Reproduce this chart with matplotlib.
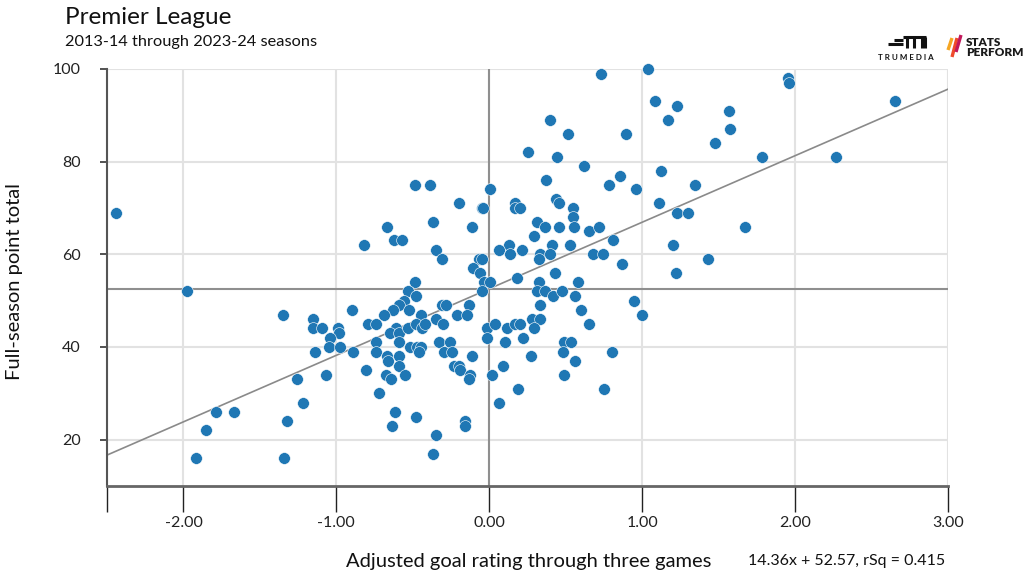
import matplotlib
matplotlib.use("Agg")
import matplotlib.pyplot as plt
from matplotlib.lines import Line2D
import numpy as np

# ---- data ----
goal_rating = [
    -2.44, -1.98, -1.79, -1.67, -1.85, -1.92,
    -1.35, -1.26, -1.32, -1.34, -1.22,
    -1.154, -1.154, -1.095, -0.99, -0.986, -1.04, -1.045, -0.975, -1.14, -0.89, -1.07, -0.895,
    -0.82, -0.666, -0.62, -0.57, -0.489, -0.39, -0.37, -0.35, -0.31,
    -0.20, -0.046, -0.116, -0.07, -0.046, -0.107, -0.063, -0.037,
    -0.489, -0.53, -0.48, -0.05, -0.556, -0.59, -0.63, -0.526,
    -0.31, -0.28, -0.13, -0.69, -0.445, -0.21, -0.146,
    -0.79, -0.74, -0.61, -0.65, -0.59, -0.53, -0.48, -0.44, -0.42, -0.35, -0.30, -0.015, -0.015,
    -0.74, -0.74, -0.59, -0.67, -0.665, -0.59, -0.59, -0.805, -0.674, -0.643, -0.554, -0.72,
    -0.615, -0.637, -0.48, -0.35, -0.37,
    -0.33, -0.255, -0.517, -0.47, -0.447, -0.458, -0.295, -0.244, -0.11, -0.233, -0.20, -0.19,
    -0.124, -0.13, -0.157, -0.157,
    0.728, 1.036, 1.082, 1.228, 1.17, 0.395, 0.512, 0.895, 0.253, 0.44, 0.62, 0.37, 0.78,
    0.855, 0.96, 1.126, 1.113, 1.23, 1.30, 0.008, -0.04, 0.166, 0.17, 0.203, 0.434, 0.454,
    0.548, 0.548, 0.31,
    0.366, 0.454, 0.556, 0.65, 0.72, 0.29, 0.126, 0.061, 0.137, 0.211, 0.41, 0.53, 0.334,
    0.40, 0.323, 0.807, 0.676, 0.742, 0.87, 1.20, 1.224,
    0.007, 0.18, 0.43, 0.323, 0.578, 0.31, 0.366, 0.42, 0.473, 0.558, 0.33, 0.60, 0.949, 1.0,
    0.28, 0.33, 0.29, 0.65, 0.04, 0.116, 0.166, 0.203, 0.10, 0.22, 0.486, 0.535, 0.48, 0.80,
    0.27, 0.56, 0.09, 0.018, 0.49, 0.188, 0.748, 0.065,
    1.952, 1.96, 2.652, 1.571, 1.577, 1.473, 1.785, 2.27, 1.346, 1.675, 1.43,
]
season_points = [
    69, 52, 26, 26, 22, 16,
    47, 33, 24, 16, 28,
    46, 44, 44, 44, 43, 42, 40, 40, 39, 39, 34, 48,
    62, 66, 63, 63, 75, 75, 67, 61, 59,
    71, 70, 66, 59, 59, 57, 56, 54,
    54, 52, 51, 52, 50, 49, 48, 48,
    49, 49, 49, 47, 47, 47, 47,
    45, 45, 44, 43, 43, 44, 45, 44, 45, 46, 45, 44, 42,
    41, 39, 41, 38, 37, 38, 36, 35, 34, 33, 34, 30,
    26, 23, 25, 21, 17,
    41, 41, 40, 40, 40, 39, 39, 39, 38, 36, 36, 35,
    34, 33, 24, 23,
    99, 100, 93, 92, 89, 89, 86, 86, 82, 81, 79, 76, 75,
    77, 74, 78, 71, 69, 69, 74, 70, 71, 70, 70, 72, 71,
    70, 68, 67,
    66, 66, 66, 65, 66, 64, 62, 61, 60, 61, 62, 62, 60,
    60, 59, 63, 60, 60, 58, 62, 56,
    54, 55, 56, 54, 54, 52, 52, 51, 52, 51, 49, 48, 50, 47,
    46, 46, 44, 45, 45, 44, 45, 45, 41, 42, 41, 41, 39, 39,
    38, 37, 36, 34, 34, 31, 31, 28,
    98, 97, 93, 91, 87, 84, 81, 81, 75, 66, 59,
]
fit_slope = 14.36
fit_intercept = 52.57
mean_points = 52.57
x_ticks = [-2.5, -2, -1, 0, 1, 2, 3]
x_tick_labels = ["", "-2.00", "-1.00", "0.00", "1.00", "2.00", "3.00"]
y_ticks = [20, 40, 60, 80, 100]

FONT = ["Lato", "DejaVu Sans"]
plt.rcParams["font.family"] = FONT

W, H = 1024, 576
fig = plt.figure(figsize=(W / 100, H / 100), dpi=100)
ax = fig.add_axes([107 / W, 90 / H, 841 / W, 417 / H])
ax.set_xlim(-2.5, 3.0)
ax.set_ylim(10, 100)

ax.set_xticks(x_ticks)
ax.set_xticklabels(x_tick_labels)
ax.set_yticks(y_ticks)
ax.grid(True, color="#e2e2e2", lw=1.5, zorder=0)
ax.set_axisbelow(True)

for s in ["top", "right"]:
    ax.spines[s].set_visible(False)
ax.spines["left"].set_color("#555555")
ax.spines["left"].set_linewidth(1.5)
ax.spines["bottom"].set_color("#666666")
ax.spines["bottom"].set_linewidth(2)

ax.tick_params(axis="x", direction="out", length=18.5, width=1, color="#222222",
               labelsize=11.5, pad=3, labelcolor="#222222")
ax.tick_params(axis="y", direction="out", length=5, width=1.2, color="#333333",
               labelsize=11.5, pad=14, labelcolor="#222222")

ax.axhline(mean_points, color="#8f8f8f", lw=1.5, zorder=1)
ax.axvline(0, color="#8f8f8f", lw=1.5, zorder=1)

xs = np.array(ax.get_xlim())
ax.plot(xs, fit_slope * xs + fit_intercept, color="#8a8a8a", lw=1.2, zorder=2)

ax.scatter(goal_rating, season_points, s=72, color="#1f77b4", edgecolor="white",
           linewidth=0.4, zorder=3, clip_on=False)

# titles and labels
fig.text(65 / W, 1 - 18 / H, "Premier League", fontsize=17.5, va="center", ha="left", color="#111111")
fig.text(65 / W, 1 - 42 / H, "2013-14 through 2023-24 seasons", fontsize=11.8, va="center", ha="left",
         color="#111111")
fig.text(15 / W, 1 - 282 / H, "Full-season point total", fontsize=14.5, rotation=90,
         va="center", ha="center", color="#111111")
fig.text(529 / W, 1 - 561 / H, "Adjusted goal rating through three games", fontsize=14.5,
         va="center", ha="center", color="#111111")
fig.text(945 / W, 1 - 561 / H, "14.36x + 52.57, rSq = 0.415", fontsize=11.5,
         va="center", ha="right", color="#111111")

# logos (approximation)
fig.text(906 / W, 1 - 57 / H, "T R U M E D I A", fontsize=5.8, weight="bold", va="center", ha="center",
         color="#111111")
def fl(x0, y0, x1, y1, c="#111111", lw=2.2):
    fig.add_artist(Line2D([x0 / W, x1 / W], [1 - y0 / H, 1 - y1 / H], color=c, lw=lw,
                          solid_capstyle="butt"))
fl(888, 44, 903, 44)
fl(894, 40, 903, 40)
fl(903, 37, 926, 37)
fl(907, 37, 907, 48)
fl(914, 37, 914, 48)
fl(922, 37, 922, 48)
fl(925, 37, 925, 48)
fl(948, 50, 952, 38, c="#f5a623", lw=2.4)
fl(952, 57, 957, 38, c="#ef4b2c", lw=2.4)
fl(956, 52, 961, 35, c="#c2185b", lw=2.4)
fig.text(966 / W, 1 - 42 / H, "STATS", fontsize=8.5, weight="heavy", va="center", ha="left",
         color="#1a1a1a")
fig.text(966 / W, 1 - 53 / H, "PERFORM", fontsize=8.5, weight="heavy", va="center", ha="left",
         color="#1a1a1a")

fig.savefig("out.png", dpi=100)
